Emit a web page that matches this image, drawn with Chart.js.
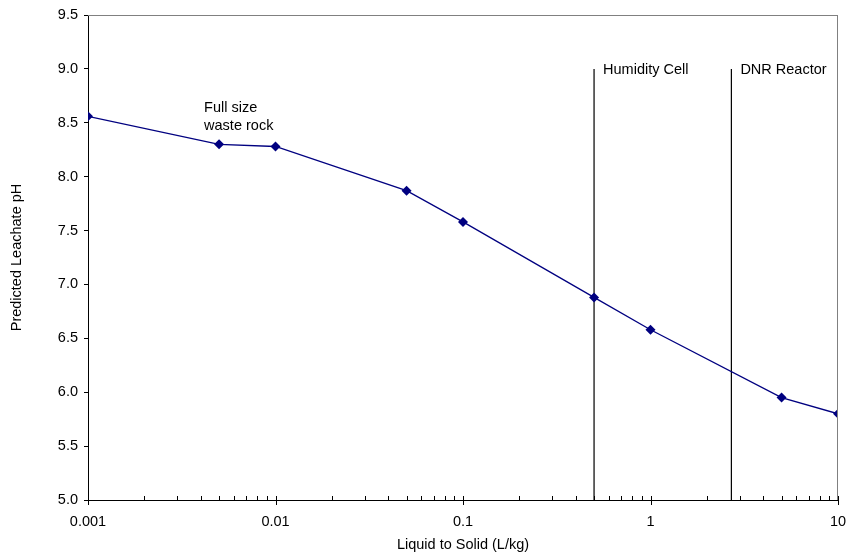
<!DOCTYPE html>
<html>
<head>
<meta charset="utf-8">
<script src="https://cdn.jsdelivr.net/npm/chart.js@4/dist/chart.umd.min.js"></script>
<style>
html,body{margin:0;padding:0;background:#fff;}
#wrap{width:848px;height:555px;position:relative;}
</style>
</head>
<body>
<div id="wrap"><canvas id="c" width="848" height="555"></canvas></div>
<script>
// Data
const liquidToSolid = [0.001, 0.005, 0.01, 0.05, 0.1, 0.5, 1, 5, 10];
const predictedPH = [8.56, 8.30, 8.28, 7.87, 7.58, 6.88, 6.58, 5.95, 5.80];
const xTickValues = [0.001, 0.01, 0.1, 1, 10];
const xTickLabels = ['0.001', '0.01', '0.1', '1', '10'];
const yTickValues = [5.0, 5.5, 6.0, 6.5, 7.0, 7.5, 8.0, 8.5, 9.0, 9.5];
const markerNames = ['Humidity Cell', 'DNR Reactor'];
const markerX = [0.5, 2.7];
const markerTopY = 9.0;
const markerBottomY = 5.0;
const noteLines = ['Full size', 'waste rock'];
const noteX = 0.00416;
const noteY = [8.64, 8.47];

const FONT = "'Liberation Sans', Arial, sans-serif";
const FS = 14.5;

const datasets = [{
  label: 'Predicted Leachate pH',
  data: liquidToSolid.map((x, i) => ({x: x, y: predictedPH[i]})),
  borderColor: '#000080',
  backgroundColor: '#000080',
  borderWidth: 1.3,
  pointStyle: 'rectRot',
  pointRadius: 5,
  pointHoverRadius: 5,
  pointBorderWidth: 0,
  tension: 0
}];
markerX.forEach((mx, i) => {
  datasets.push({
    label: markerNames[i],
    data: [{x: mx, y: markerTopY}, {x: mx, y: markerBottomY}],
    borderColor: '#000',
    borderWidth: 1.2,
    pointRadius: 0,
    pointHoverRadius: 0
  });
});

const decor = {
  id: 'decor',
  afterDraw(chart) {
    const ctx = chart.ctx;
    const xs = chart.scales.x, ys = chart.scales.y;
    const a = chart.chartArea;
    ctx.save();
    // top and right frame
    ctx.strokeStyle = '#808080';
    ctx.lineWidth = 1;
    ctx.beginPath();
    ctx.moveTo(a.left, Math.round(a.top) + 0.5);
    ctx.lineTo(a.right, Math.round(a.top) + 0.5);
    ctx.moveTo(Math.round(a.right) - 0.5, a.top);
    ctx.lineTo(Math.round(a.right) - 0.5, a.bottom);
    ctx.stroke();
    // x ticks: major crossing, minor inside
    ctx.strokeStyle = '#000';
    ctx.beginPath();
    const yb = Math.round(a.bottom);
    for (let d = 0; d < xTickValues.length; d++) {
      const base = xTickValues[d];
      const px = Math.round(xs.getPixelForValue(base)) + 0.5;
      ctx.moveTo(px, yb - 4);
      ctx.lineTo(px, yb + 5);
      if (d < xTickValues.length - 1) {
        for (let m = 2; m <= 9; m++) {
          const mp = Math.round(xs.getPixelForValue(base * m)) + 0.5;
          ctx.moveTo(mp, yb - 4);
          ctx.lineTo(mp, yb);
        }
      }
    }
    ctx.stroke();
    // texts
    ctx.fillStyle = '#000';
    ctx.font = FS + 'px ' + FONT;
    ctx.textBaseline = 'middle';
    ctx.textAlign = 'left';
    markerX.forEach((mx, i) => {
      ctx.fillText(markerNames[i], xs.getPixelForValue(mx) + 9, ys.getPixelForValue(markerTopY) + 1);
    });
    noteLines.forEach((t, i) => {
      ctx.fillText(t, xs.getPixelForValue(noteX), ys.getPixelForValue(noteY[i]));
    });
    ctx.restore();
  }
};

new Chart(document.getElementById('c'), {
  type: 'line',
  data: {datasets: datasets},
  plugins: [decor],
  options: {
    responsive: false,
    animation: false,
    events: [],
    layout: {padding: {left: 0, top: 15, right: 10, bottom: 0}},
    plugins: {legend: {display: false}, tooltip: {enabled: false}},
    scales: {
      x: {
        type: 'logarithmic',
        min: 0.001,
        max: 10,
        afterBuildTicks(scale) { scale.ticks = xTickValues.map(v => ({value: v})); },
        afterFit(scale) { scale.height = 55; scale.paddingLeft = 0; scale.paddingRight = 0; },
        grid: {display: false},
        border: {display: true, color: '#000', width: 1},
        ticks: {
          color: '#000',
          font: {family: FONT, size: FS},
          padding: 5,
          maxRotation: 0,
          autoSkip: false,
          callback: (v) => { const i = xTickValues.indexOf(v); return i >= 0 ? xTickLabels[i] : ''; }
        },
        title: {display: true, text: 'Liquid to Solid (L/kg)', color: '#000', font: {family: FONT, size: FS}, padding: {top: 0, bottom: 1}}
      },
      y: {
        type: 'linear',
        min: 5.0,
        max: 9.5,
        afterBuildTicks(scale) { scale.ticks = yTickValues.map(v => ({value: v})); },
        afterFit(scale) { scale.width = 88; scale.paddingTop = 0; scale.paddingBottom = 0; },
        grid: {display: true, drawOnChartArea: false, drawTicks: true, tickLength: 4, color: '#000'},
        border: {display: true, color: '#000', width: 1},
        ticks: {
          color: '#000',
          font: {family: FONT, size: FS},
          padding: 6,
          callback: (v) => Number(v).toFixed(1)
        },
        title: {display: true, text: 'Predicted Leachate pH', color: '#000', font: {family: FONT, size: FS}, padding: {top: 8, bottom: 0}}
      }
    }
  }
});
</script>
</body>
</html>
